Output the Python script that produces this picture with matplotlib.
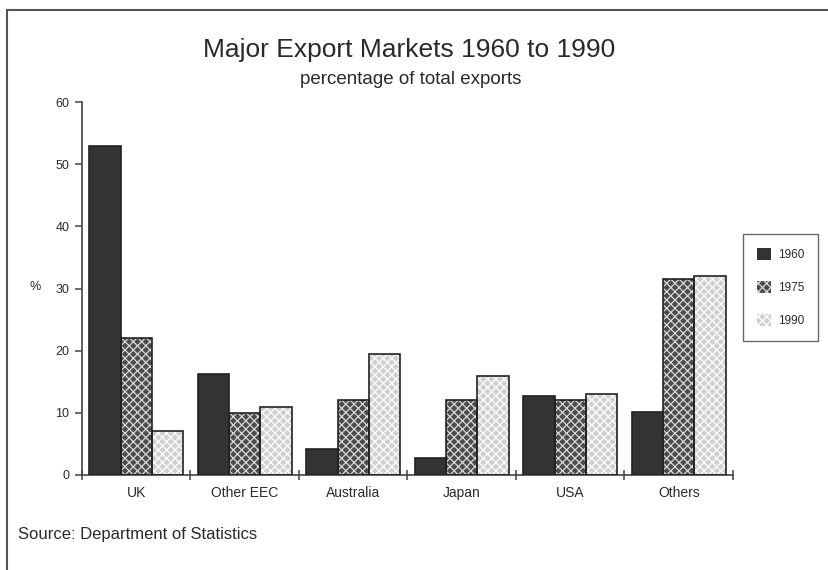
#!/usr/bin/env python3
# -*- coding: utf-8 -*-
"""
Grouped bar chart of major export markets, 1960 to 1990.
"""

import matplotlib
matplotlib.use('Agg')
import matplotlib.pyplot as plt
from matplotlib.lines import Line2D
from matplotlib.patches import Patch
import numpy as np

markets = ['UK', 'Other EEC', 'Australia', 'Japan', 'USA', 'Others']
years = ['1960', '1975', '1990']
share_1960 = [53, 16.2, 4.2, 2.8, 12.7, 10.2]
share_1975 = [22, 10, 12, 12, 12, 31.5]
share_1990 = [7, 11, 19.5, 16, 13, 32]

# face colour, hatch, hatch colour for each year
styles = [
    ('#333333', '', '#333333'),
    ('#4c4c4c', 'xxxx', '#d8d8d8'),
    ('#d0d0d0', 'xxxx', '#ffffff'),
]

plt.rcParams['font.family'] = ['Liberation Sans', 'DejaVu Sans']
plt.rcParams['hatch.linewidth'] = 0.9
text_col = '#2a2a2a'

fig = plt.figure(figsize=(8.29, 5.70), dpi=100)
ax = fig.add_axes([0.0989, 0.1667, 0.7853, 0.6543])

x = np.arange(len(markets)) + 0.5
width = 0.288
for k, values in enumerate([share_1960, share_1975, share_1990]):
    face, hatch, hcol = styles[k]
    pos = x + (k - 1) * width
    ax.bar(pos, values, width, color=face, hatch=hatch, edgecolor=hcol,
           linewidth=0, zorder=2)
    ax.bar(pos, values, width, fill=False, edgecolor='#222222',
           linewidth=1.2, zorder=3)

ax.set_xlim(0, len(markets))
ax.set_ylim(0, 60)
ax.set_yticks(range(0, 61, 10))
ax.set_xticks(range(0, len(markets) + 1))
ax.set_xticklabels([])
for i, name in enumerate(markets):
    ax.text(x[i], -2.9, name, ha='center', va='center', fontsize=10,
            color=text_col)

for side in ['top', 'right']:
    ax.spines[side].set_visible(False)
for side in ['left', 'bottom']:
    ax.spines[side].set_color('#444444')
    ax.spines[side].set_linewidth(1.2)
ax.tick_params(axis='x', direction='inout', length=7, width=1.1,
               color='#444444')
ax.tick_params(axis='y', direction='out', length=5, width=1.1,
               color='#444444', labelsize=9, labelcolor=text_col, pad=4)

fig.text(0.0422, 1 - 287 / 570, '%', ha='center', va='center', fontsize=9,
         color=text_col)

fig.text(409 / 829, 1 - 57 / 570, 'Major Export Markets 1960 to 1990',
         ha='center', va='baseline', fontsize=19, color=text_col)
fig.text(411 / 829, 1 - 84 / 570, 'percentage of total exports',
         ha='center', va='baseline', fontsize=13.5, color=text_col)
fig.text(18 / 829, 1 - 535 / 570, 'Source: Department of Statistics',
         ha='left', va='center', fontsize=12, color=text_col)

handles = [Patch(facecolor=s[0], hatch=s[1], edgecolor=s[2], linewidth=0)
           for s in styles]
leg = fig.legend(handles, years, loc='upper left',
                 bbox_to_anchor=(743 / 829, 1 - 234 / 570),
                 frameon=True, fancybox=False, fontsize=8.5,
                 handlelength=1.15, handleheight=1.15, labelspacing=1.7,
                 borderpad=1.2, handletextpad=0.6, borderaxespad=0)
leg.get_frame().set_edgecolor('#444444')
leg.get_frame().set_linewidth(1.0)
for t in leg.get_texts():
    t.set_color(text_col)

# frame lines round the figure
fig.add_artist(Line2D([7 / 829, 1], [1 - 10 / 570, 1 - 10 / 570],
                      transform=fig.transFigure, color='#555555', lw=1.5))
fig.add_artist(Line2D([7 / 829, 7 / 829], [0, 1 - 10 / 570],
                      transform=fig.transFigure, color='#555555', lw=1.5))

fig.savefig('out.png', dpi=100)
plt.close(fig)
